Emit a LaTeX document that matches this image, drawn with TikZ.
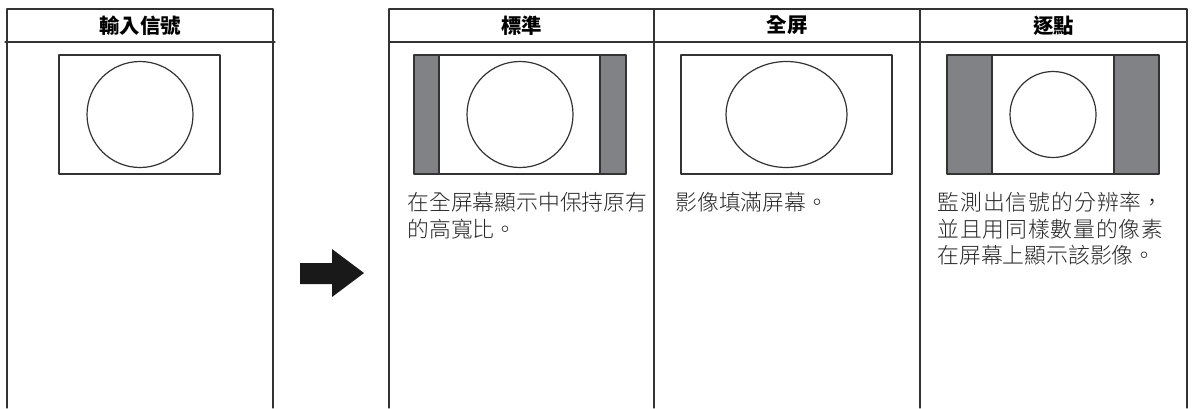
\documentclass[tikz,border=0pt]{standalone}
\usepackage{fontspec}
\newfontfamily\cjk{Noto Sans CJK TC}
\newfontfamily\cjklight{Noto Sans CJK TC Light}
\definecolor{barGray}{RGB}{128,130,133}
\XeTeXlinebreaklocale "zh"
\XeTeXlinebreakskip=0pt plus 2pt

\begin{document}
\begin{tikzpicture}[x=0.5pt,y=-0.5pt,line join=round,line cap=round]
	\tikzset{frame/.style={draw=black!80,line width=0.6pt},
		head/.style={font=\cjk\bfseries\fontsize{10.2}{12}\selectfont,inner sep=0pt},
		body/.style={font=\cjklight\fontsize{10.9}{13.2}\selectfont,text=black!85,inner sep=0pt,anchor=north west}}
	\useasboundingbox (0,0) rectangle (1192,408);
	% input table
	\draw[frame] (7,408)--(7,9)--(273,9)--(273,408);
	\draw[frame] (5,42)--(275,42);
	\node[head] (hdrInput) at (140,25.5) {輸入信號};
	\draw[frame] (59,55) rectangle (220,174);
	\draw[frame] (140,114.5) circle (53);
	% arrow
	\fill[black!90] (300,263)--(332,263)--(332,249)--(364,273)--(332,297)--(332,284)--(300,284)--cycle;
	% output table
	\draw[frame] (389,408)--(389,9)--(1187,9)--(1187,408);
	\draw[frame] (389,42)--(1187,42);
	\foreach \x in {654,920}
	\draw[frame] (\x,9)--(\x,408);
	\node[head] (hdrNormal) at (521.5,25.5) {標準};
	\node[head] (hdrFull) at (787,25.5) {全屏};
	\node[head] (hdrDot) at (1053.5,25.5) {逐點};
	% normal
	\fill[barGray] (414,55) rectangle (626,174);
	\fill[white] (439,55) rectangle (600,174);
	\draw[frame] (414,55) rectangle (626,174);
	\draw[frame] (439,55)--(439,174) (600,55)--(600,174);
	\draw[frame] (520,114.5) circle (53);
	% full
	\draw[frame] (681,55) rectangle (892,174);
	\draw[frame] (786.5,114.5) ellipse (60.5 and 53);
	% dot by dot
	\fill[barGray] (947,55) rectangle (1159,174);
	\fill[white] (992,55) rectangle (1114,174);
	\draw[frame] (947,55) rectangle (1159,174);
	\draw[frame] (992,55)--(992,174) (1114,55)--(1114,174);
	\draw[frame] (1053,114.5) circle (43);
	% texts
	\node[body,align=left] (txtNormal) at (407,192) {在全屏幕顯示中保持原有\\的高寬比。};
	\node[body] (txtFull) at (675,192) {影像填滿屏幕。};
	\node[body,text width=113pt,align=justify] (txtDot) at (937,192) {監測出信號的分辨率，並且用同樣數量的像素在屏幕上顯示該影像。};
\end{tikzpicture}
\end{document}
